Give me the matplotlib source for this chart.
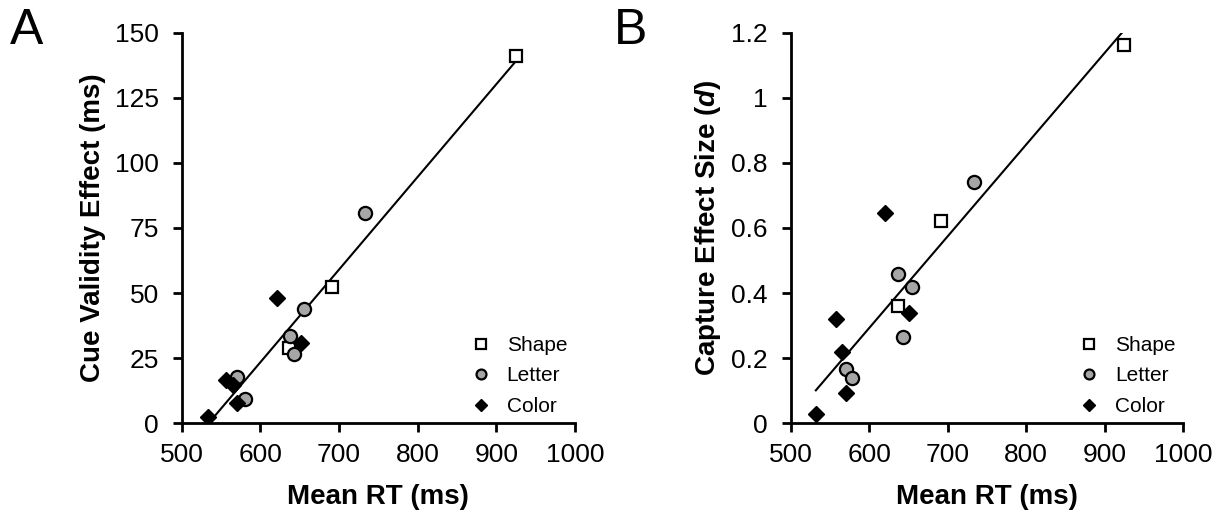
import numpy as np
import matplotlib
matplotlib.use("Agg")
import matplotlib.pyplot as plt

plt.rcParams['font.family'] = ['Liberation Sans', 'DejaVu Sans']
plt.rcParams['mathtext.fontset'] = 'custom'
plt.rcParams['mathtext.it'] = 'Liberation Sans:bold:italic'
plt.rcParams['mathtext.rm'] = 'Liberation Sans:bold'

# ---- data ----
groups = ["Shape", "Letter", "Color"]

shape_rt = [925, 691, 636]
shape_cve = [141, 52.5, 28.8]
shape_d = [1.162, 0.622, 0.361]

letter_rt_a = [733, 655, 638, 643, 571, 580]
letter_cve = [80.6, 43.8, 33.5, 26.5, 17.7, 9.5]
letter_rt_b = [733, 655, 636, 643, 570, 578]
letter_d = [0.742, 0.420, 0.459, 0.264, 0.166, 0.140]

color_rt_a = [621, 652, 557, 565, 570, 533]
color_cve = [48, 30.7, 16.6, 14.7, 7.9, 2.3]
color_rt_b = [620, 651, 558, 565, 570, 532]
color_d = [0.647, 0.338, 0.320, 0.220, 0.092, 0.028]

xticks = [500, 600, 700, 800, 900, 1000]
yticks_a = [0, 25, 50, 75, 100, 125, 150]
yticks_b = [0, 0.2, 0.4, 0.6, 0.8, 1.0, 1.2]
ytick_labels_b = ["0", "0.2", "0.4", "0.6", "0.8", "1", "1.2"]

fig = plt.figure(figsize=(12.24, 5.12), dpi=100)
axA = fig.add_axes([0.1484, 0.1732, 0.3213, 0.763])
axB = fig.add_axes([0.646, 0.1732, 0.3208, 0.763])


def draw_panel(ax, sx, sy, lx, ly, cx, cy, yticks, ylab, ylim):
    ax.plot(sx, sy, 's', ms=8.7, mfc='white', mec='black', mew=1.6, label="Shape", zorder=3)
    ax.plot(lx, ly, 'o', ms=9.5, mfc='#a6a6a6', mec='black', mew=1.6, label="Letter", zorder=3)
    ax.plot(cx, cy, 'D', ms=8, mfc='black', mec='black', mew=1, label="Color", zorder=3)
    allx = np.array(sx + lx + cx, dtype=float)
    ally = np.array(sy + ly + cy, dtype=float)
    k, b = np.polyfit(allx, ally, 1)
    xx = np.array([allx.min(), allx.max()])
    ax.plot(xx, k * xx + b, color='black', lw=1.5, zorder=2)
    ax.set_xlim(500, 1000)
    ax.set_ylim(*ylim)
    ax.set_xticks(xticks)
    ax.set_yticks(yticks)
    for s in ['top', 'right']:
        ax.spines[s].set_visible(False)
    for s in ['left', 'bottom']:
        ax.spines[s].set_linewidth(2.0)
    ax.tick_params(direction='out', length=6.5, width=2.0, labelsize=19)
    ax.tick_params(axis='y', pad=10)
    ax.tick_params(axis='x', pad=8)
    ax.set_xlabel("Mean RT (ms)", fontsize=20, fontweight='bold', labelpad=12)
    ax.set_ylabel(ylab, fontsize=20, fontweight='bold', labelpad=6)
    ax.legend(loc='lower right', frameon=False, fontsize=15, markerscale=0.75,
              handlelength=1.0, handletextpad=0.75, labelspacing=0.55,
              borderaxespad=0.2, bbox_to_anchor=(1.012, -0.013))


draw_panel(axA, shape_rt, shape_cve, letter_rt_a, letter_cve, color_rt_a, color_cve,
           yticks_a, "Cue Validity Effect (ms)", (0, 150))
draw_panel(axB, shape_rt, shape_d, letter_rt_b, letter_d, color_rt_b, color_d,
           yticks_b, r"Capture Effect Size ($d$)", (0, 1.2))
axB.set_yticklabels(ytick_labels_b)

fig.text(0.008, 0.985, "A", fontsize=36, va='top', ha='left')
fig.text(0.5015, 0.985, "B", fontsize=36, va='top', ha='left')

fig.savefig("out.png", dpi=100)
